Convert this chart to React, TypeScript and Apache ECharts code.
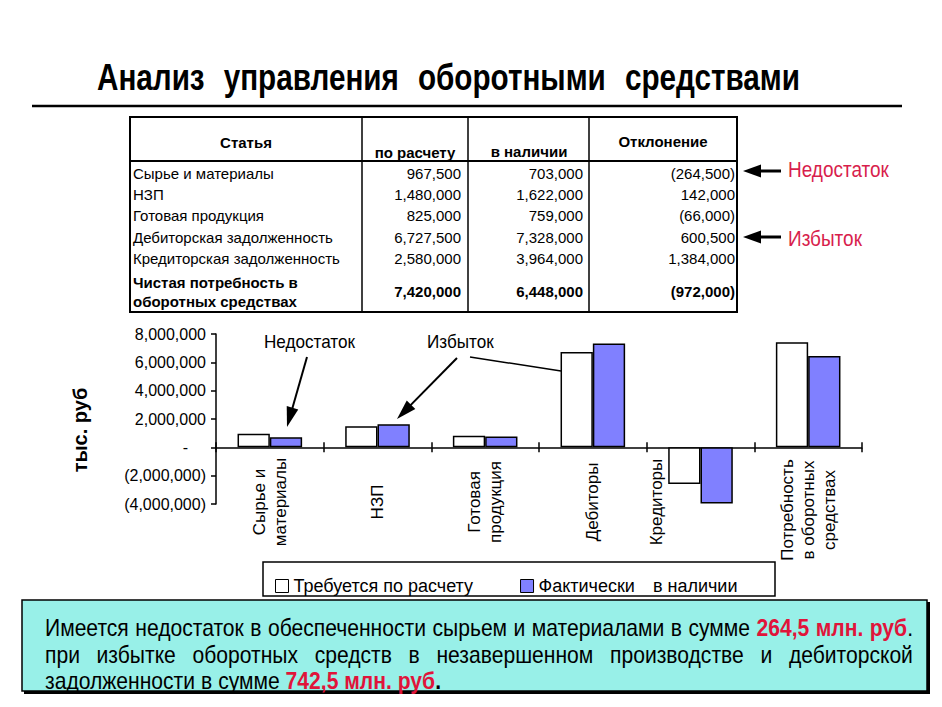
import React, { useEffect, useRef } from 'react';
import * as echarts from 'echarts';

// ---------- data ----------
const categories = ['Сырье и\nматериалы', 'НЗП', 'Готовая\nпродукция', 'Дебиторы', 'Кредиторы', 'Потребность\nв оборотных\nсредствах'];
const seriesNames = ['Требуется по расчету', 'Фактически в наличии'];
const requiredValues = [967500, 1480000, 825000, 6727500, -2580000, 7420000];
const actualValues = [703000, 1622000, 759000, 7328000, -3964000, 6448000];
const yMin = -4000000;
const yMax = 8000000;
const yInterval = 2000000;

const tableHeaders = ['Статья', 'по расчету', 'в наличии', 'Отклонение'];
const tableItems = ['Сырье и материалы', 'НЗП', 'Готовая продукция', 'Дебиторская задолженность', 'Кредиторская задолженность', 'Чистая потребность в\nоборотных средствах'];
const tableCalc = [967500, 1480000, 825000, 6727500, 2580000, 7420000];
const tableActual = [703000, 1622000, 759000, 7328000, 3964000, 6448000];
const tableDeviation = [-264500, 142000, -66000, 600500, 1384000, -972000];

const titleWords = ['Анализ', 'управления', 'оборотными', 'средствами'];
const yAxisName = 'тыс. руб';
const shortageLabel = 'Недостаток';
const surplusLabel = 'Избыток';

// ---------- style ----------
const FONT = "'Liberation Sans', Arial, Helvetica, sans-serif";
const RED = '#D81E4C';
const RED_BOLD = '#E0143A';
const BLUE = '#8080FF';
const CYAN = '#98F0E8';

let measureCtx: CanvasRenderingContext2D | null = null;
function measure(text: string, size: number, bold = false): number {
  if (!measureCtx) measureCtx = document.createElement('canvas').getContext('2d');
  measureCtx!.font = `${bold ? 'bold' : 'normal'} ${size}px ${FONT}`;
  return measureCtx!.measureText(text).width;
}

const fmt = (v: number) => Math.abs(v).toLocaleString('en-US');
const fmtAcc = (v: number) => (v < 0 ? `(${fmt(v)})` : fmt(v));

type Part = { text: string; color?: string; bold?: boolean };
type Word = Part[];

function textEl(x: number, y: number, text: string, o: any = {}) {
  return {
    type: 'text',
    x,
    y,
    scaleX: o.scaleX ?? 1,
    silent: true,
    style: {
      text,
      x: 0,
      y: 0,
      fontSize: o.size ?? 15,
      fontFamily: FONT,
      fontWeight: o.bold ? 'bold' : 'normal',
      fill: o.color ?? '#000',
      align: o.align ?? 'left',
      verticalAlign: 'middle',
      lineHeight: o.lineHeight,
    },
  };
}

function wordWidth(w: Word, size: number, s: number) {
  return w.reduce((acc, p) => acc + measure(p.text, size, !!p.bold) * s, 0);
}

function layoutWords(words: Word[], x0: number, x1: number | null, y: number, size: number, s: number) {
  const widths = words.map((w) => wordWidth(w, size, s));
  const total = widths.reduce((a, b) => a + b, 0);
  const gap = x1 !== null && words.length > 1 ? (x1 - x0 - total) / (words.length - 1) : measure(' ', size) * s;
  const els: any[] = [];
  let x = x0;
  words.forEach((w, i) => {
    let px = x;
    w.forEach((p) => {
      els.push(textEl(px, y, p.text, { size, bold: p.bold, color: p.color, scaleX: s }));
      px += measure(p.text, size, !!p.bold) * s;
    });
    x += widths[i] + gap;
  });
  return els;
}

function arrow(x1: number, y1: number, x2: number, y2: number, head: number, half: number, lw: number) {
  const dx = x2 - x1;
  const dy = y2 - y1;
  const L = Math.hypot(dx, dy);
  const ux = dx / L;
  const uy = dy / L;
  const bx = x2 - ux * head;
  const by = y2 - uy * head;
  const nx = -uy;
  const ny = ux;
  return [
    { type: 'line', silent: true, shape: { x1, y1, x2: bx + ux * 2, y2: by + uy * 2 }, style: { stroke: '#000', lineWidth: lw } },
    {
      type: 'polygon',
      silent: true,
      shape: { points: [[x2, y2], [bx + nx * half, by + ny * half], [bx - nx * half, by - ny * half]] },
      style: { fill: '#000' },
    },
  ];
}

const plain = (t: string): Word => [{ text: t }];
const red = (t: string): Word => [{ text: t, color: RED_BOLD, bold: true }];

function buildGraphics() {
  const g: any[] = [];

  // Title
  const titleSize = 36;
  const titleRaw = titleWords.reduce((a, w) => a + measure(w, titleSize, true), 0);
  const titleS = (703 - 3 * 19) / titleRaw;
  g.push(...layoutWords(titleWords.map((w) => [{ text: w, bold: true }]), 97, 800, 77, titleSize, titleS));
  g.push({ type: 'line', silent: true, shape: { x1: 32, y1: 106, x2: 902, y2: 106 }, style: { stroke: '#000', lineWidth: 2.5 } });

  // Table
  const colX = [130, 362, 468, 589, 737];
  const top = 117;
  const headBottom = 161;
  const bottom = 312;
  const rowY = [173, 194, 215, 237, 258];
  g.push({ type: 'rect', silent: true, shape: { x: colX[0], y: top, width: colX[4] - colX[0], height: bottom - top }, style: { fill: '#fff', stroke: '#000', lineWidth: 2 } });
  g.push({ type: 'line', silent: true, shape: { x1: colX[0], y1: headBottom, x2: colX[4], y2: headBottom }, style: { stroke: '#000', lineWidth: 2 } });
  for (let i = 1; i < 4; i++) {
    g.push({ type: 'line', silent: true, shape: { x1: colX[i], y1: top, x2: colX[i], y2: bottom }, style: { stroke: '#000', lineWidth: 1.5 } });
  }
  g.push(textEl(246, 142, tableHeaders[0], { bold: true, align: 'center' }));
  g.push(textEl(415, 152, tableHeaders[1], { bold: true, align: 'center' }));
  g.push(textEl(529, 151, tableHeaders[2], { bold: true, align: 'center' }));
  g.push(textEl(663, 141, tableHeaders[3], { bold: true, align: 'center' }));
  tableItems.forEach((item, i) => {
    const last = i === tableItems.length - 1;
    const y = last ? 291.5 : rowY[i];
    g.push(textEl(133, y, item, { bold: last, lineHeight: 19 }));
    g.push(textEl(461, y, fmtAcc(tableCalc[i]), { bold: last, align: 'right' }));
    g.push(textEl(583, y, fmtAcc(tableActual[i]), { bold: last, align: 'right' }));
    g.push(textEl(735, y, fmtAcc(tableDeviation[i]), { bold: last, align: 'right' }));
  });

  // Side arrows with red labels
  g.push(...arrow(781, 171, 743, 171, 18, 6.5, 3));
  g.push(...arrow(781, 237, 743, 237, 18, 6.5, 3));
  const sideSize = 22;
  const sideS = 101 / measure(shortageLabel, sideSize);
  g.push(textEl(788, 169, shortageLabel, { size: sideSize, color: RED, scaleX: sideS }));
  g.push(textEl(788, 238, surplusLabel, { size: sideSize, color: RED, scaleX: sideS }));

  // Chart annotations
  const annSize = 18;
  const annS = 91 / measure(shortageLabel, annSize);
  g.push(textEl(264, 342, shortageLabel, { size: annSize, scaleX: annS }));
  g.push(textEl(427, 342, surplusLabel, { size: annSize, scaleX: annS }));
  g.push(...arrow(307, 357, 287, 427, 20, 6, 2));
  g.push(...arrow(457, 358, 397, 419, 20, 6, 2));
  g.push({ type: 'line', silent: true, shape: { x1: 470, y1: 357, x2: 561, y2: 371 }, style: { stroke: '#000', lineWidth: 1.5 } });

  // Legend frame
  g.push({ type: 'rect', silent: true, z: -1, shape: { x: 263, y: 562, width: 512, height: 34 }, style: { fill: '#fff', stroke: '#000', lineWidth: 1.5 } });

  // Conclusion box
  g.push({ type: 'rect', silent: true, shape: { x: 24, y: 602, width: 906, height: 92 }, style: { fill: '#000' } });
  g.push({ type: 'rect', silent: true, shape: { x: 22, y: 600, width: 905, height: 91 }, style: { fill: CYAN, stroke: '#000', lineWidth: 1.5 } });

  const boxSize = 24;
  const line1: Word[] = ['Имеется', 'недостаток', 'в', 'обеспеченности', 'сырьем', 'и', 'материалами', 'в', 'сумме'].map(plain);
  line1.push(red('264,5'), red('млн.'), [{ text: 'руб', color: RED_BOLD, bold: true }, { text: '.' }]);
  const line2: Word[] = ['при', 'избытке', 'оборотных', 'средств', 'в', 'незавершенном', 'производстве', 'и', 'дебиторской'].map(plain);
  const line3: Word[] = ['задолженности', 'в', 'сумме'].map(plain);
  line3.push(red('742,5'), red('млн.'), [{ text: 'руб', color: RED_BOLD, bold: true }, { text: '.', bold: true }]);
  const l3raw = line3.reduce((a, w) => a + wordWidth(w, boxSize, 1), 0) + (line3.length - 1) * measure(' ', boxSize);
  const boxS = 396 / l3raw;
  g.push(...layoutWords(line1, 45, 913, 628, boxSize, boxS));
  g.push(...layoutWords(line2, 45, 913, 655, boxSize, boxS));
  g.push(...layoutWords(line3, 45, null, 681, boxSize, boxS));

  return g;
}

// rich styles for category labels (per-category offsets like the original slide)
const CAT_FS = 17;
const catRich: any = {
  n: { fontSize: CAT_FS, lineHeight: 21, color: '#000', fontFamily: FONT },
  s4: { fontSize: CAT_FS, lineHeight: 21, color: '#000', fontFamily: FONT, padding: [0, 0, 88, 0] },
  s5: { fontSize: CAT_FS, lineHeight: 21, color: '#000', fontFamily: FONT, padding: [0, 16, 0, 0] },
};
function catFormatter(value: string, index: number) {
  const lines = value.split('\n');
  return lines
    .map((l) => {
      let key = 'n';
      if (index === 4) key = 's4';
      if (index === 5) key = 's5';
      return `{${key}|${l}}`;
    })
    .join('\n');
}

export default function App() {
  const ref = useRef<HTMLDivElement>(null);
  useEffect(() => {
    document.body.style.margin = '0';
    if (!ref.current) return;
    const chart = echarts.init(ref.current, undefined, { renderer: 'svg' });

    const axisLineStyle = { color: '#000', width: 1.5 };
    const option: any = {
      animation: false,
      backgroundColor: '#fff',
      textStyle: { fontFamily: FONT },
      grid: { left: 216, right: 80, top: 334, bottom: 203, containLabel: false },
      legend: {
        left: 270,
        top: 572,
        itemWidth: 13,
        itemHeight: 13,
        itemGap: 47,
        icon: 'rect',
        selectedMode: false,
        data: seriesNames,
        itemStyle: { borderColor: '#000', borderWidth: 1 },
        textStyle: {
          fontSize: 18,
          color: '#000',
          fontFamily: FONT,
          rich: {
            t: { fontSize: 18, color: '#000', fontFamily: FONT },
            g: { width: 18 },
          },
        },
        formatter: (name: string) => (name === seriesNames[1] ? '{t|Фактически}{g|}{t|в наличии}' : name),
      },
      xAxis: [
        {
          type: 'category',
          data: categories,
          axisLine: { onZero: true, onZeroAxisIndex: 0, lineStyle: axisLineStyle },
          axisTick: { show: true, length: 5, lineStyle: axisLineStyle },
          axisLabel: {
            interval: 0,
            rotate: 90,
            align: 'center',
            verticalAlign: 'middle',
            margin: -2,
            fontSize: CAT_FS,
            lineHeight: 21,
            color: '#000',
            fontFamily: FONT,
            formatter: catFormatter,
            rich: catRich,
          },
          splitLine: { show: false },
        },
        {
          type: 'category',
          data: categories,
          position: 'bottom',
          axisLine: { show: false, onZero: true, onZeroAxisIndex: 1 },
          axisTick: { show: true, inside: true, length: 5, lineStyle: axisLineStyle },
          axisLabel: { show: false },
          splitLine: { show: false },
        },
      ],
      yAxis: [
        {
          type: 'value',
          min: yMin,
          max: yMax,
          interval: yInterval,
          name: `{n|${yAxisName}}`,
          nameLocation: 'middle',
          nameGap: 126,
          nameTextStyle: {
            fontSize: 20,
            fontWeight: 'bold',
            color: '#000',
            fontFamily: FONT,
            rich: { n: { fontSize: 20, fontWeight: 'bold', color: '#000', fontFamily: FONT, padding: [0, 22, 0, 0] } },
          },
          axisLine: { show: true, onZero: false, lineStyle: axisLineStyle },
          axisTick: { show: true, length: 5, lineStyle: axisLineStyle },
          splitLine: { show: false },
          axisLabel: {
            fontSize: 16,
            color: '#000',
            fontFamily: FONT,
            margin: 10,
            formatter: (v: number) => (v === 0 ? '{d|-}' : fmtAcc(v)),
            rich: { d: { fontSize: 16, color: '#000', fontFamily: FONT, padding: [0, 18, 0, 0] } },
          },
        },
        {
          type: 'value',
          min: yMin,
          max: yMax,
          interval: yInterval,
          position: 'left',
          axisLine: { show: false, onZero: false },
          axisTick: { show: false },
          axisLabel: { show: false },
          splitLine: { show: false },
        },
      ],
      series: [
        {
          name: seriesNames[0],
          type: 'bar',
          data: requiredValues,
          barGap: '0%',
          barCategoryGap: '40%',
          itemStyle: { color: '#fff', borderColor: '#000', borderWidth: 1.5 },
        },
        {
          name: seriesNames[1],
          type: 'bar',
          data: actualValues,
          barGap: '0%',
          barCategoryGap: '40%',
          itemStyle: { color: BLUE, borderColor: '#000', borderWidth: 1.5 },
        },
      ],
      graphic: { elements: buildGraphics() },
    };
    chart.setOption(option);
    return () => chart.dispose();
  }, []);
  return <div ref={ref} style={{ position: 'absolute', left: 0, top: 0, width: 942, height: 707 }} />;
}
